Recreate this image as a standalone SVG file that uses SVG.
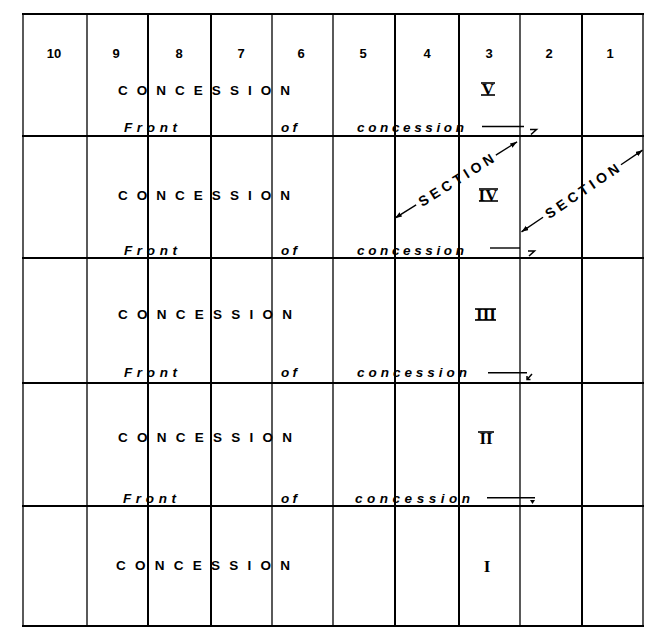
<svg xmlns="http://www.w3.org/2000/svg" width="659" height="641" viewBox="0 0 659 641">
<style>
.grid line{stroke:#000;stroke-width:2}
.grid line.thin{stroke-width:1.3}
.num{font-family:"Liberation Sans",Arial,sans-serif;font-weight:bold;font-size:13px;text-anchor:middle}
.con{font-family:"Liberation Sans",Arial,sans-serif;font-weight:bold;font-size:13.5px}
.it{font-family:"Liberation Sans",Arial,sans-serif;font-style:italic;font-weight:bold;font-size:13.5px}
.rom{font-family:"Liberation Serif","Times New Roman",serif;font-weight:bold;font-size:17px;text-anchor:middle}
.bar{stroke:#000;stroke-width:1.6}
.sec{font-family:"Liberation Sans",Arial,sans-serif;font-weight:bold;font-size:14px;text-anchor:middle}
.arr{stroke:#000;stroke-width:1.4;fill:none}
.mk{stroke:#000;stroke-width:1.5;fill:none}
</style>
<defs>
<marker id="ah" markerUnits="userSpaceOnUse" markerWidth="8" markerHeight="6" refX="7" refY="2.5" orient="auto">
<path d="M0,0 L7,2.5 L0,5 z" fill="#000"/>
</marker>
</defs>
<rect width="659" height="641" fill="#fff"/>
<g id="grid" class="grid">
<line x1="22" y1="14" x2="644" y2="14"/>
<line x1="22" y1="136" x2="644" y2="136"/>
<line x1="22" y1="258" x2="644" y2="258"/>
<line x1="22" y1="383" x2="644" y2="383"/>
<line x1="22" y1="506" x2="644" y2="506"/>
<line x1="22" y1="626" x2="644" y2="626"/>
<line class="thin" x1="23" y1="14" x2="23" y2="626"/>
<line class="thin" x1="87" y1="14" x2="87" y2="626"/>
<line x1="148" y1="14" x2="148" y2="626"/>
<line x1="211" y1="14" x2="211" y2="626"/>
<line class="thin" x1="272" y1="14" x2="272" y2="626"/>
<line class="thin" x1="333" y1="14" x2="333" y2="626"/>
<line x1="395" y1="14" x2="395" y2="626"/>
<line x1="459" y1="14" x2="459" y2="626"/>
<line class="thin" x1="520" y1="14" x2="520" y2="626"/>
<line x1="582" y1="14" x2="582" y2="626"/>
<line class="thin" x1="643" y1="14" x2="643" y2="626"/>
</g>
<g id="lot-numbers">
<text class="num" x="54" y="58">10</text>
<text class="num" x="116" y="58">9</text>
<text class="num" x="179" y="58">8</text>
<text class="num" x="241" y="58">7</text>
<text class="num" x="301" y="58">6</text>
<text class="num" x="363" y="58">5</text>
<text class="num" x="427" y="58">4</text>
<text class="num" x="489" y="58">3</text>
<text class="num" x="549" y="58">2</text>
<text class="num" x="610" y="58">1</text>
</g>
<g id="concession-5">
<text class="con" x="118" y="95" textLength="172" lengthAdjust="spacing">CONCESSION</text>
<text class="rom" x="488" y="95">V</text>
<line class="bar" x1="481" y1="83" x2="495" y2="83"/><line class="bar" x1="481" y1="95" x2="495" y2="95"/>
<text class="it" x="124" y="132" textLength="53" lengthAdjust="spacing">Front</text>
<text class="it" x="281" y="132" textLength="16" lengthAdjust="spacing">of</text>
<text class="it" x="357" y="132" textLength="107" lengthAdjust="spacing">concession</text>
</g>
<g id="concession-4">
<text class="con" x="118" y="200" textLength="172" lengthAdjust="spacing">CONCESSION</text>
<text class="rom" x="488" y="201">IV</text>
<line class="bar" x1="479" y1="189" x2="498" y2="189"/><line class="bar" x1="479" y1="201" x2="498" y2="201"/>
<text class="it" x="124" y="255" textLength="53" lengthAdjust="spacing">Front</text>
<text class="it" x="281" y="255" textLength="16" lengthAdjust="spacing">of</text>
<text class="it" x="357" y="255" textLength="107" lengthAdjust="spacing">concession</text>
</g>
<g id="concession-3">
<text class="con" x="118" y="319" textLength="174" lengthAdjust="spacing">CONCESSION</text>
<text class="rom" x="486" y="320">III</text>
<line class="bar" x1="475" y1="309" x2="496" y2="309"/><line class="bar" x1="475" y1="320" x2="496" y2="320"/>
<text class="it" x="124" y="377" textLength="53" lengthAdjust="spacing">Front</text>
<text class="it" x="281" y="377" textLength="16" lengthAdjust="spacing">of</text>
<text class="it" x="357" y="377" textLength="110" lengthAdjust="spacing">concession</text>
</g>
<g id="concession-2">
<text class="con" x="118" y="442" textLength="174" lengthAdjust="spacing">CONCESSION</text>
<text class="rom" x="486" y="444">II</text>
<line class="bar" x1="478" y1="432" x2="494" y2="432"/>
<text class="it" x="123" y="503" textLength="53" lengthAdjust="spacing">Front</text>
<text class="it" x="281" y="503" textLength="16" lengthAdjust="spacing">of</text>
<text class="it" x="355" y="503" textLength="115" lengthAdjust="spacing">concession</text>
</g>
<g id="concession-1">
<text class="con" x="116" y="570" textLength="174" lengthAdjust="spacing">CONCESSION</text>
<text class="rom" x="487" y="572">I</text>
</g>
<g id="connectors">
<line class="arr" x1="482" y1="126.5" x2="524" y2="126.5"/>
<path class="mk" d="M530,129.5 H536.5 L531,134.5"/>
<line class="arr" x1="490" y1="248" x2="520" y2="248"/>
<path class="mk" d="M528,251 H534.5 L529,256"/>
<line class="arr" x1="488" y1="372.7" x2="527" y2="372.7"/>
<path class="mk" d="M532,374 L527.5,379 M527,376 V379.5 H530.5"/>
<line class="arr" x1="487" y1="497.7" x2="535" y2="497.7"/>
<path d="M530,500 H535 L532.5,504 z" fill="#000"/>
</g>
<g id="section-1" transform="translate(456,180) rotate(-32)">
<text class="sec" x="0" y="5" textLength="86" lengthAdjust="spacing">SECTION</text>
<line class="arr" x1="-47" y1="0" x2="-72" y2="0" marker-end="url(#ah)"/>
<line class="arr" x1="47" y1="0" x2="72" y2="0" marker-end="url(#ah)"/>
</g>
<g id="section-2" transform="translate(582,191) rotate(-34)">
<text class="sec" x="0" y="5" textLength="86" lengthAdjust="spacing">SECTION</text>
<line class="arr" x1="-47" y1="0" x2="-73" y2="0" marker-end="url(#ah)"/>
<line class="arr" x1="47" y1="0" x2="73" y2="0" marker-end="url(#ah)"/>
</g>
</svg>
